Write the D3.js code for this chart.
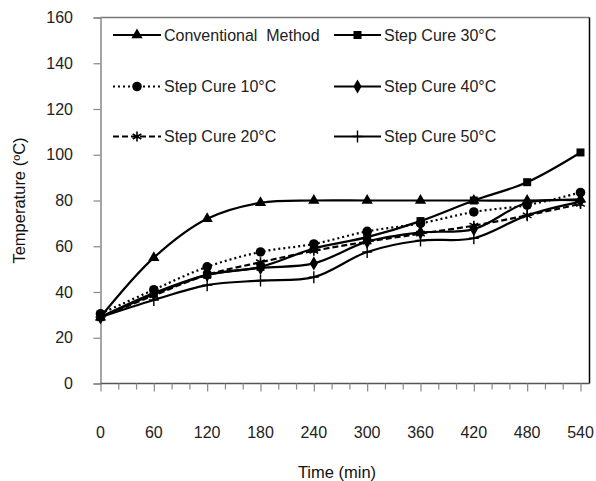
<!DOCTYPE html>
<html>
<head>
<meta charset="utf-8">
<script src="https://cdn.jsdelivr.net/npm/d3@7"></script>
<style>
  body { margin: 0; background: #fff; }
  svg { font-family: "Liberation Sans", Arial, sans-serif; }
</style>
</head>
<body>
<div id="chart"></div>
<script>
// time axis (min)
const times = [0, 60, 120, 180, 240, 300, 360, 420, 480, 540];

// temperatures (°C)
const conventional = [29, 55, 72, 79, 80, 80, 80, 80, 80, 80.5];
const stepCure10 = [30.5, 41, 51, 57.5, 61, 66.5, 70, 75, 78, 83.5];
const stepCure20 = [29, 38.5, 47.5, 53, 58, 62, 65.5, 69, 73.5, 78.5];
const stepCure30 = [29, 39.5, 47.5, 51, 59, 64, 71, 80, 88, 101];
const stepCure40 = [29, 39, 47.5, 50.5, 52.5, 62, 66, 67.5, 79, 80];
const stepCure50 = [29, 36.5, 43, 45, 46.5, 57.5, 62.5, 63.5, 73.5, 79.5];

const seriesNames = ["Conventional Method", "Step Cure 10°C", "Step Cure 20°C",
                     "Step Cure 30°C", "Step Cure 40°C", "Step Cure 50°C"];
const yTicks = [0, 20, 40, 60, 80, 100, 120, 140, 160];
const xLabels = [0, 60, 120, 180, 240, 300, 360, 420, 480, 540];

const W = 596, H = 481;
const plotL = 100.5, plotR = 589.5, plotT = 17.5, plotB = 383.5;

const svg = d3.select("#chart").append("svg")
  .attr("width", W).attr("height", H);

const x = d3.scaleLinear().domain([0, 540]).range([plotL, 580.5]);
const y = d3.scaleLinear().domain([0, 160]).range([plotB, plotT]);

// frame: top and right
svg.append("line").attr("x1", plotL).attr("x2", plotR).attr("y1", plotT).attr("y2", plotT)
  .attr("stroke", "#777").attr("stroke-width", 1.5);
svg.append("line").attr("x1", plotR).attr("x2", plotR).attr("y1", plotT).attr("y2", plotB)
  .attr("stroke", "#000").attr("stroke-width", 1.5);

// y axis
const yAxis = svg.append("g").attr("transform", `translate(${plotL},0)`)
  .call(d3.axisLeft(y).tickValues(yTicks).tickSize(7).tickFormat(""));
yAxis.select(".domain").attr("stroke", "#888").attr("stroke-width", 1.5);
yAxis.selectAll(".tick line").attr("stroke", "#888").attr("stroke-width", 1.2);

svg.append("g").selectAll("text").data(yTicks).join("text")
  .attr("x", 73).attr("y", d => y(d))
  .attr("text-anchor", "end").attr("dominant-baseline", "central")
  .attr("font-size", 16).attr("fill", "#222")
  .text(d => d);

// x axis
const xTickVals = d3.range(0, 541, 20);
const xAxis = svg.append("g").attr("transform", `translate(0,${plotB})`)
  .call(d3.axisBottom(x).tickValues(xTickVals).tickSizeOuter(0).tickFormat(""));
xAxis.select(".domain").attr("d", `M${plotL},0H${plotR}`)
  .attr("stroke", "#555").attr("stroke-width", 1.5);
xAxis.selectAll(".tick line")
  .attr("y2", d => d % 60 === 0 ? 8 : 6)
  .attr("stroke", "#888").attr("stroke-width", 1.2);

svg.append("g").selectAll("text").data(xLabels).join("text")
  .attr("x", d => x(d)).attr("y", 432)
  .attr("text-anchor", "middle").attr("dominant-baseline", "central")
  .attr("font-size", 16).attr("fill", "#222")
  .text(d => d);

// axis titles
svg.append("text").attr("x", 337).attr("y", 472)
  .attr("text-anchor", "middle").attr("dominant-baseline", "central")
  .attr("font-size", 16.5).attr("fill", "#111")
  .text("Time (min)");
svg.append("text")
  .attr("transform", `translate(19,${(plotT + plotB) / 2}) rotate(-90)`)
  .attr("text-anchor", "middle").attr("dominant-baseline", "central")
  .attr("font-size", 16.5).attr("fill", "#111")
  .text("Temperature (ºC)");

// marker shapes
const asterisk = "M0,-5V5M-4.3,-2.5L4.3,2.5M-4.3,2.5L4.3,-2.5";
const plus = "M0,-6V6M-5,0H5";
function marker(g, kind) {
  if (kind === "triangle") g.append("path").attr("d", d3.symbol(d3.symbolTriangle, 55)()).attr("fill", "#000");
  else if (kind === "square") g.append("path").attr("d", d3.symbol(d3.symbolSquare, 64)()).attr("fill", "#000");
  else if (kind === "circle") g.append("circle").attr("r", 4.8).attr("fill", "#000");
  else if (kind === "diamond") g.append("path").attr("d", d3.symbol(d3.symbolDiamond, 58)()).attr("fill", "#000");
  else if (kind === "asterisk") g.append("path").attr("d", asterisk).attr("stroke", "#000").attr("stroke-width", 1.6).attr("fill", "none");
  else if (kind === "plus") g.append("path").attr("d", plus).attr("stroke", "#000").attr("stroke-width", 1.4).attr("fill", "none");
}

const series = [
  { name: seriesNames[0], values: conventional, marker: "triangle", dash: null },
  { name: seriesNames[1], values: stepCure10, marker: "circle", dash: "2,3" },
  { name: seriesNames[2], values: stepCure20, marker: "asterisk", dash: "6,3" },
  { name: seriesNames[3], values: stepCure30, marker: "square", dash: null },
  { name: seriesNames[4], values: stepCure40, marker: "diamond", dash: null },
  { name: seriesNames[5], values: stepCure50, marker: "plus", dash: null }
];

const line = d3.line()
  .x((d, i) => x(times[i]))
  .y(d => y(d))
  .curve(d3.curveCatmullRom.alpha(0.5));

// draw lines back to front so the conventional curve sits on top
const drawOrder = [5, 4, 3, 2, 1, 0];
drawOrder.forEach(k => {
  const s = series[k];
  svg.append("path").datum(s.values)
    .attr("d", line)
    .attr("fill", "none").attr("stroke", "#000").attr("stroke-width", 2.2)
    .attr("stroke-dasharray", s.dash);
  s.values.forEach((v, i) => {
    const g = svg.append("g").attr("transform", `translate(${x(times[i])},${y(v)})`);
    marker(g, s.marker);
  });
});

// legend: two columns, three rows
const legendRows = [35, 86.5, 136.5];
const legendCols = [{ x1: 113, x2: 161, tx: 164 }, { x1: 334, x2: 381, tx: 384 }];
series.forEach((s, k) => {
  const col = legendCols[Math.floor(k / 3)];
  const ry = legendRows[k % 3];
  const g = svg.append("g");
  g.append("line").attr("x1", col.x1).attr("x2", col.x2).attr("y1", ry).attr("y2", ry)
    .attr("stroke", "#000").attr("stroke-width", 2.2)
    .attr("stroke-dasharray", s.dash);
  marker(g.append("g").attr("transform", `translate(${(col.x1 + col.x2) / 2},${ry})`), s.marker);
  g.append("text").attr("x", col.tx).attr("y", ry)
    .attr("dominant-baseline", "central")
    .attr("font-size", 16).attr("fill", "#222")
    .attr("xml:space", "preserve")
    .text(s.name === "Conventional Method" ? "Conventional  Method" : s.name);
});
</script>
</body>
</html>
